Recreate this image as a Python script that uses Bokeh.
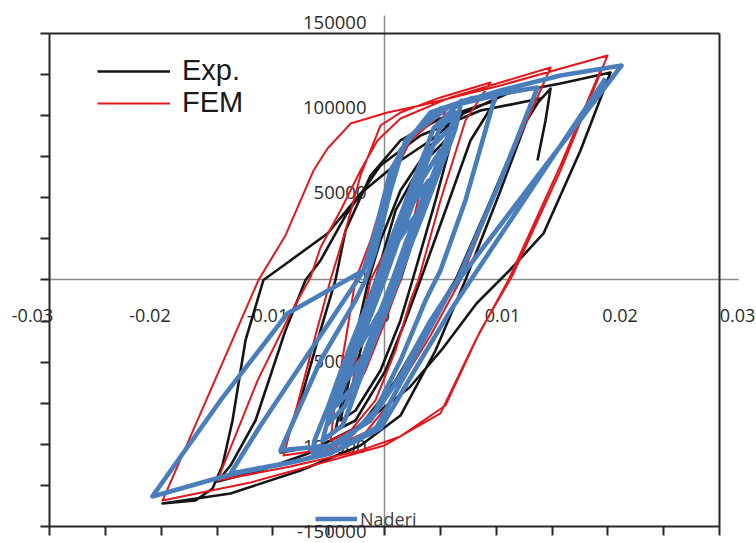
from bokeh.plotting import figure
from bokeh.models import (LinearAxis, Range1d, FixedTicker, Legend, LegendItem,
                          CustomJSTickFormatter)
from bokeh.embed import file_html
from bokeh.resources import INLINE

# ---------------- data ----------------
exp_x = [0, 0.00188, 0.00278, 0.00099, -0.00036, -0.00170, -0.00260, -0.00125, 0.00054, 0.00143,
         0.00367, 0.00546, 0.00322, 0.00099, -0.00081, -0.00260, -0.00394, -0.00260, -0.00036, 0.00143, 0.00251,
         0.00457, 0.00636, 0.00412, 0.00143, -0.00036, -0.00143, -0.00304, -0.00439, -0.00260, 0.00009, 0.00188, 0.00322,
         0.00546, 0.00770, 0.00994, 0.00501, 0.00143, -0.00125, -0.00349, -0.00439, -0.00573, -0.00752, -0.00931,
         -0.00573, -0.00215, 0.00099, 0.00412, 0.00636, 0.00949, 0.01218, 0.01397,
         0.00860, 0.00322, -0.00036, -0.00349, -0.00573, -0.00707, -0.00887, -0.01155, -0.01379, -0.01496,
         -0.01110, -0.00484, -0.00072, 0.00224, 0.00528, 0.00824, 0.01119, 0.01424, 0.01755, 0.02024,
         0.01576, 0.01101, 0.00707, 0.00412, 0.00143, -0.00215, -0.00510, -0.00842, -0.01084, -0.01245,
         -0.01361, -0.01451, -0.01540, -0.01693, -0.01988,
         -0.01379, -0.00752, -0.00215, 0.00143, 0.00457, 0.00725, 0.01039, 0.01307, 0.01487, 0.01442, 0.01370]
exp_y = [0, 36200, 57500, 30100, 0, -30700, -55100, -42900, -12500, 0,
         48400, 84900, 69700, 42300, 0, -42900, -85500, -79400, -55100, -24600, 0,
         48400, 94000, 81800, 54500, 24000, 0, -49000, -91600, -85500, -55100, -24600, 0,
         42300, 84900, 109200, 98300, 84900, 63600, 30100, 0, -30700, -73300, -105000,
         -100700, -88500, -61200, -24600, 0, 48400, 91000, 110400,
         103100, 87900, 69700, 39200, 11900, 0, -30700, -85500, -112900, -122600,
         -115900, -100700, -81200, -65400, -41100, -14300, 5800, 28300, 78800, 126300,
         119600, 113500, 101300, 84900, 72700, 52600, 28300, 11900, 0, -36800,
         -85500, -112900, -126900, -134200, -136000,
         -129900, -115900, -100700, -82500, -42900, 0, 54500, 103100, 116500, 97100, 72700]

fem_x = [0, 0.00188, 0.00322, 0.00143, 0.00009, -0.00125, -0.00233, -0.00304, -0.00170, 0.00009, 0.00143,
         0.00278, 0.00412, 0.00546, 0.00233, 0.00009, -0.00125, -0.00260, -0.00349, -0.00439, -0.00484,
         -0.00304, -0.00081, 0.00099, 0.00233, 0.00304, 0.00501, 0.00725, 0.00949,
         0.00501, 0.00143, -0.00036, -0.00215, -0.00349, -0.00484, -0.00618, -0.00770, -0.00904,
         -0.00484, -0.00170, 0.00027, 0.00412, 0.00681, 0.01039, 0.01487,
         0.00591, 0.00143, -0.00063, -0.00215, -0.00394, -0.00573, -0.00663, -0.00842, -0.01137, -0.01496,
         -0.00842, -0.00215, 0.00143, 0.00546, 0.00860, 0.01146, 0.01576, 0.01997,
         0.01039, 0.00322, 0.00027, -0.00304, -0.00510, -0.00636, -0.00887, -0.01128, -0.01558, -0.01988,
         -0.01200, -0.00484, 0, 0.00501, 0.00815, 0.01110, 0.01576, 0.01934]
fem_y = [0, 42300, 72700, 39200, 17900, 0, -36800, -73300, -55100, -24600, 0,
         42300, 78800, 103100, 84900, 54500, 24000, 0, -36800, -73300, -97700,
         -91600, -73300, -42900, -12500, 0, 48400, 97100, 120200,
         111100, 101900, 94000, 63600, 30100, 0, -33800, -73300, -106800,
         -102500, -92800, -76400, -33800, 0, 60500, 129300,
         111100, 98300, 84900, 66600, 42300, 19800, 1500, -20400, -61200, -122000,
         -113500, -103700, -95200, -76400, -30700, 2700, 66600, 136600,
         118400, 106200, 101900, 95200, 80000, 66600, 27100, 0, -67200, -134200,
         -123200, -109800, -100700, -81200, -36800, 0, 69700, 127500]

naderi_x = [0, 0.00125, 0.00278,
            0.00116, -0.00009, -0.00116, -0.00215,
            -0.00036, 0.00072, 0.00197, 0.00287, 0.00394,
            0.00179, 0.00090, -0.00036, -0.00143, -0.00260, -0.00340,
            -0.00125, -0.00009, 0.00099, 0.00224, 0.00313, 0.00430, 0.00501,
            0.00331, 0.00215, 0.00125, 0, -0.00107, -0.00233, -0.00349, -0.00430,
            -0.00233, -0.00116, 0.00009, 0.00116, 0.00242, 0.00331, 0.00448, 0.00546, 0.00582,
            0.00394, 0.00287, 0.00170, 0.00081, -0.00045, -0.00152, -0.00278, -0.00394, -0.00475, -0.00519,
            -0.00349, -0.00269, -0.00152, -0.00027, 0.00081, 0.00206, 0.00296, 0.00412, 0.00519, 0.00591, 0.00636,
            0.00493, 0.00421, 0.00313, 0.00197, 0.00107, -0.00018, -0.00125, -0.00251, -0.00367, -0.00448,
            -0.00519, -0.00555,
            -0.00376, -0.00304, -0.00224, -0.00107, 0.00018, 0.00125, 0.00251, 0.00340, 0.00457, 0.00564,
            0.00636, 0.00690,
            0.00439, 0.00367, 0.00260, 0.00143, 0.00054, -0.00072, -0.00179, -0.00304, -0.00421, -0.00501,
            -0.00573, -0.00627, -0.00645,
            -0.00349, -0.00081, 0.00143, 0.00367, 0.00501, 0.00725, 0.00994,
            0.00501, 0.00188, 0.00054, -0.00081, -0.00170, -0.00260, -0.00573, -0.00931,
            -0.00484, -0.00125, 0.00143, 0.00412, 0.00654, 0.01039, 0.01370,
            0.00770, 0.00412, 0.00143, 0.00009, -0.00081, -0.00188, -0.00304, -0.00752, -0.01110, -0.01379,
            -0.00842, -0.00484, -0.00072, 0.00287, 0.00591, 0.01307, 0.02122,
            0.01576, 0.01039, 0.00591, 0.00233, 0.00054, -0.00081, -0.00188, -0.00869, -0.01469, -0.02078,
            -0.01379, -0.00752, -0.00394, -0.00036, 0.00322, 0.00591, 0.00949, 0.01487, 0.01979]
naderi_y = [0, 24000, 39200,
            24000, 0, -18600, -39900,
            -18600, 0, 24000, 39200, 60500,
            39200, 24000, 0, -18600, -39900, -61200,
            -39900, -18600, 0, 24000, 39200, 60500, 78800,
            60500, 39200, 24000, 0, -18600, -39900, -61200, -76400,
            -61200, -39900, -18600, 0, 24000, 39200, 60500, 78800, 92200,
            78800, 60500, 39200, 24000, 0, -18600, -39900, -61200, -76400, -88500,
            -76400, -61200, -39900, -18600, 0, 24000, 39200, 60500, 78800, 92200, 101900,
            92200, 78800, 60500, 39200, 24000, 0, -18600, -39900, -61200, -76400,
            -88500, -97700,
            -88500, -76400, -61200, -39900, -18600, 0, 24000, 39200, 60500, 78800,
            92200, 109200,
            92200, 78800, 60500, 39200, 24000, 0, -18600, -39900, -61200, -76400,
            -88500, -97700, -105000,
            -97700, -79400, -49000, -12500, 5800, 48400, 112300,
            104400, 84900, 54500, 17900, 0, -12500, -49000, -103700,
            -100700, -85500, -58100, -24600, 0, 60500, 117100,
            110400, 101900, 78800, 48400, 24000, 5800, -6400, -52000, -88500, -117700,
            -111100, -105600, -89800, -44700, -6400, 57500, 130500,
            124400, 115300, 106200, 87900, 66600, 30100, 5800, -20400, -73300, -131700,
            -118400, -109800, -102500, -90400, -49000, -18600, 17900, 72700, 122600]

x_label_values = [-0.03, -0.02, -0.01, 0.0, 0.01, 0.02, 0.03]
x_label_texts = ["-0.03", "-0.02", "-0.01", "0", "0.01", "0.02", "0.03"]
y_label_values = [-150000, -100000, -50000, 0, 50000, 100000, 150000]
y_label_texts = ["-150000", "-100000", "-50000", "0", "50000", "100000", "150000"]
x_tick_marks = [-0.03, -0.025, -0.02, -0.015, -0.01, -0.005, 0.0, 0.005, 0.01, 0.015, 0.02, 0.025, 0.03]
y_tick_marks = [-150000, -125000, -100000, -75000, -50000, -25000, 0, 25000, 50000, 75000,
                100000, 125000, 150000]

# ---------------- figure (plot frame fills the whole canvas) ----------------
FONT = "Open Sans"
LEGEND_FONT = "Liberation Sans"
p = figure(width=756, height=543,
           x_range=Range1d(-0.034388, 0.033313), y_range=Range1d(-160345, 170081),
           x_axis_type=None, y_axis_type=None,
           output_backend="svg", toolbar_location=None,
           min_border_left=0, min_border_right=0, min_border_top=0, min_border_bottom=0,
           outline_line_color=None, background_fill_color="white", border_fill_color="white")
p.title.visible = False

# tick labels in the source are spread slightly wider than the box
p.extra_x_ranges = {"xl": Range1d(-0.032723, 0.031617)}
p.extra_y_ranges = {"yl": Range1d(-157075, 162967)}

blank = CustomJSTickFormatter(code="return ''")
DARK = "#262626"
GREY = "#8a8a8a"


def plain_axis(**kw):
    return LinearAxis(formatter=blank, minor_tick_line_color=None, **kw)


# centre cross lines (under the curves)
p.add_layout(plain_axis(fixed_location=0, bounds=(-0.03, 0.0317),
                        ticker=FixedTicker(ticks=[], minor_ticks=[]),
                        axis_line_color=GREY, axis_line_width=1.5,
                        major_tick_line_color=None, level="underlay"), "below")
p.add_layout(plain_axis(fixed_location=0, bounds=(-155000, 161000),
                        ticker=FixedTicker(ticks=[], minor_ticks=[]),
                        axis_line_color=GREY, axis_line_width=1.5,
                        major_tick_line_color=None, level="underlay"), "left")

# box: left & bottom with outward ticks, top & right plain
p.add_layout(plain_axis(fixed_location=-0.03, bounds=(-150000, 150000),
                        ticker=FixedTicker(ticks=y_tick_marks, minor_ticks=[]),
                        axis_line_width=2, axis_line_color=DARK, major_tick_line_width=2,
                        major_tick_line_color=DARK, major_tick_out=9, major_tick_in=0), "left")
p.add_layout(plain_axis(fixed_location=-150000, bounds=(-0.03, 0.03),
                        ticker=FixedTicker(ticks=x_tick_marks, minor_ticks=[]),
                        axis_line_width=2, axis_line_color=DARK, major_tick_line_width=2,
                        major_tick_line_color=DARK, major_tick_out=9, major_tick_in=0), "below")
p.add_layout(plain_axis(fixed_location=150000, bounds=(-0.03, 0.03),
                        ticker=FixedTicker(ticks=[], minor_ticks=[]),
                        axis_line_width=2, axis_line_color=DARK,
                        major_tick_line_color=None), "above")
p.add_layout(plain_axis(fixed_location=0.03, bounds=(-150000, 150000),
                        ticker=FixedTicker(ticks=[], minor_ticks=[]),
                        axis_line_width=2, axis_line_color=DARK,
                        major_tick_line_color=None), "right")

# tick labels along the centre lines
xlab = LinearAxis(x_range_name="xl", fixed_location=0,
                  ticker=FixedTicker(ticks=x_label_values, minor_ticks=[]),
                  major_label_overrides=dict(zip(x_label_values, x_label_texts)),
                  axis_line_color=None, major_tick_line_color=None, minor_tick_line_color=None,
                  major_tick_out=0, major_tick_in=0, major_label_standoff=29,
                  major_label_text_font=FONT, major_label_text_font_size="18px",
                  major_label_text_color="#2a2a2a", level="underlay")
p.add_layout(xlab, "below")

ylab = LinearAxis(y_range_name="yl", fixed_location=0,
                  ticker=FixedTicker(ticks=y_label_values, minor_ticks=[]),
                  major_label_overrides=dict(zip(y_label_values, y_label_texts)),
                  axis_line_color=None, major_tick_line_color=None, minor_tick_line_color=None,
                  major_tick_out=0, major_tick_in=0, major_label_standoff=18,
                  major_label_text_font=FONT, major_label_text_font_size="18.5px",
                  major_label_text_color="#2a2a2a", level="underlay")
p.add_layout(ylab, "left")

# ---------------- series ----------------
r_exp = p.line(exp_x, exp_y, line_color="#151515", line_width=2.6, line_join="round")
r_fem = p.line(fem_x, fem_y, line_color="#e3171c", line_width=2.0, line_join="round")
r_nad = p.line(naderi_x, naderi_y, line_color="#4a7ebb", line_width=4.6, line_join="round")


def make_legend(label, renderer, loc, gw, h, font, size, color, standoff):
    return Legend(items=[LegendItem(label=label, renderers=[renderer])],
                  location=loc, border_line_color=None, background_fill_alpha=0,
                  padding=0, margin=0, spacing=0,
                  glyph_width=gw, glyph_height=h, label_height=h, label_standoff=standoff,
                  label_text_font=font, label_text_font_size=size, label_text_color=color)


p.add_layout(make_legend("Exp.", r_exp, (97, 456), 73, 32, LEGEND_FONT, "29px", "#1a1a1a", 12))
p.add_layout(make_legend("FEM", r_fem, (97, 424), 73, 32, LEGEND_FONT, "29px", "#1a1a1a", 12))
p.add_layout(make_legend("Naderi", r_nad, (315, 12), 42, 25, FONT, "18px", "#404040", 3))

open("out.html", "w").write(file_html(p, INLINE))
